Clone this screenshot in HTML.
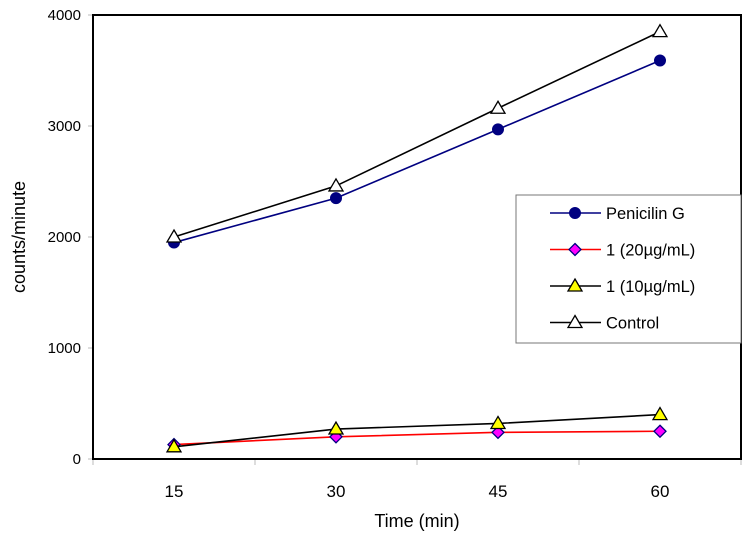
<!DOCTYPE html>
<html><head><meta charset="utf-8"><style>
body{margin:0;background:#fff;}
svg{display:block;font-family:"Liberation Sans",Arial,sans-serif;}
</style></head><body>
<svg id="chart" width="752" height="540"></svg>
<script>
const categories=["15","30","45","60"];
const yTicks=[0,1000,2000,3000,4000];
const penicillin=[1950,2350,2970,3590];
const conc20=[130,200,240,250];
const conc10=[110,270,320,400];
const control=[2000,2460,3160,3850];
const seriesNames=["Penicilin G","1 (20µg/mL)","1 (10µg/mL)","Control"];

const L=93,R=741,T=15,B=459;
const NS="http://www.w3.org/2000/svg";
const svg=document.getElementById('chart');
const bw=(R-L)/categories.length;
function x(i){return L+bw*(i+0.5);}
function y(v){return B-(v/4000)*(B-T);}
function mk(tag,attrs,parent){const e=document.createElementNS(NS,tag);for(const k in attrs)e.setAttribute(k,attrs[k]);(parent||svg).appendChild(e);return e;}

yTicks.forEach(v=>{
  const t=mk('line',{x1:L-5,x2:L,y1:y(v),y2:y(v),stroke:'#bbb','stroke-width':1});
  
  
  const lb=mk('text',{x:L-12,y:y(v)+5,'text-anchor':'end','font-size':15,fill:'#000'});
  lb.textContent=v;
  
  
});
for(let i=0;i<=categories.length;i++){
  const t=mk('line',{x1:L+bw*i,x2:L+bw*i,y1:B,y2:B+6,stroke:'#bbb','stroke-width':1});
  
  
}
categories.forEach((c,i)=>{
  const lb=mk('text',{x:x(i),y:B+38,'text-anchor':'middle','font-size':17,fill:'#000'});
  lb.textContent=c;
  
  
});
const fr=mk('rect',{x:L,y:T,width:R-L,height:B-T,fill:'none',stroke:'#000','stroke-width':2});



function marker(type,cx,cy,parent){
  let e;
  if(type==='circle') e=mk('circle',{cx:cx,cy:cy,r:5.5,fill:'#000080',stroke:'#000080'},parent);
  else if(type==='diamond') e=mk('polygon',{points:`${cx},${cy-6} ${cx+6},${cy} ${cx},${cy+6} ${cx-6},${cy}`,fill:'#ff00ff',stroke:'#000080','stroke-width':1.3},parent);
  else if(type==='tri-y') e=mk('polygon',{points:`${cx},${cy-7} ${cx+7},${cy+5} ${cx-7},${cy+5}`,fill:'#ffff00',stroke:'#000','stroke-width':1.3},parent);
  else e=mk('polygon',{points:`${cx},${cy-7} ${cx+7},${cy+5} ${cx-7},${cy+5}`,fill:'#fff',stroke:'#000','stroke-width':1.3},parent);
  return e;
}
const series=[
 {name:'penicillin',data:penicillin,color:'#000080',m:'circle'},
 {name:'conc-20',data:conc20,color:'#ff0000',m:'diamond'},
 {name:'conc-10',data:conc10,color:'#000',m:'tri-y'},
 {name:'control',data:control,color:'#000',m:'tri-w'}
];
series.forEach(s=>{
  const g=mk('g',{});
  
  
  const pl=mk('polyline',{points:s.data.map((v,i)=>x(i)+','+y(v)).join(' '),fill:'none',stroke:s.color,'stroke-width':1.6},g);
  
  
  s.data.forEach((v,i)=>{
    const p=marker(s.m,x(i),y(v),g);
    
    
  });
});
const lg=mk('g',{});


mk('rect',{x:516,y:195,width:225,height:148,fill:'#fff',stroke:'#777','stroke-width':1},lg);
series.forEach((s,i)=>{
  const ly=213+i*36.5;
  const e=mk('g',{},lg);
  
  
  mk('line',{x1:550,x2:601,y1:ly,y2:ly,stroke:s.color,'stroke-width':1.6},e);
  marker(s.m,575,ly,e);
  const t=mk('text',{x:606,y:ly+6,'font-size':16.5,fill:'#000'},e);
  t.textContent=seriesNames[i];
});
const xt=mk('text',{x:417,y:527,'text-anchor':'middle','font-size':18,fill:'#000'});
xt.textContent='Time (min)';


const yt=mk('text',{x:0,y:0,'text-anchor':'middle','font-size':18,fill:'#000',transform:'translate(25,237) rotate(-90)'});
yt.textContent='counts/minute';


</script>
</body></html>
